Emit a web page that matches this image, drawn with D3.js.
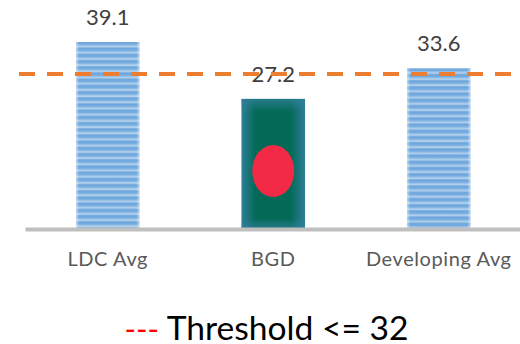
<!DOCTYPE html>
<html>
<head>
<meta charset="utf-8">
<script src="https://cdnjs.cloudflare.com/ajax/libs/d3/7.8.5/d3.min.js"></script>
<style>
html,body{margin:0;padding:0;background:#fff;}
svg{display:block;font-family:Lato,"Open Sans",sans-serif;}
</style>
</head>
<body>
<svg id="chart" width="520" height="344"></svg>
<script>
const categories = ["LDC Avg", "BGD", "Developing Avg"];
const values = [39.1, 27.2, 33.6];
const valueLabels = ["39.1", "27.2", "33.6"];
const thresholdLevel = 32.4;
const legendDash = "---";
const legendText = " Threshold <= 32";

const svg = d3.select("#chart");
const baseline = 229;

const x = d3.scaleBand().domain(categories).range([25, 521.5]).paddingInner(0.616).paddingOuter(0.308);
const y = d3.scaleLinear().domain([0, 39.1]).range([baseline, 42]);

const defs = svg.append("defs");

// Horizontal blue banding used by the two average bars
const stripe = defs.append("linearGradient").attr("id", "stripeBand").attr("x1", 0).attr("x2", 0).attr("y1", 0).attr("y2", 1);
[[0, "#6ba4dc"], [0.4, "#78aee0"], [0.75, "#bdd7ee"], [1, "#6ba4dc"]].forEach(([o, c]) =>
  stripe.append("stop").attr("offset", o).attr("stop-color", c));
defs.append("pattern").attr("id", "stripes").attr("patternUnits", "userSpaceOnUse")
  .attr("width", 10).attr("height", 6.2)
  .append("rect").attr("width", 10).attr("height", 6.2).attr("fill", "url(#stripeBand)");

// Pale fade at the left and right edges of a striped bar
const sideFade = defs.append("linearGradient").attr("id", "sideFade");
[[0, 0.5], [0.05, 0], [0.95, 0], [1, 0.5]].forEach(([o, a]) =>
  sideFade.append("stop").attr("offset", o).attr("stop-color", "#fff").attr("stop-opacity", a));

// Flag field: deep green centre softening to teal at the bar edges
const flagX = defs.append("linearGradient").attr("id", "flagX");
[[0, "#2f7f98"], [0.22, "#046a58"], [0.78, "#046a58"], [1, "#2f7f98"]].forEach(([o, c]) =>
  flagX.append("stop").attr("offset", o).attr("stop-color", c));
const flagY = defs.append("linearGradient").attr("id", "flagY").attr("x1", 0).attr("x2", 0).attr("y1", 0).attr("y2", 1);
[[0, 0.8], [0.1, 0], [0.92, 0], [1, 0.8]].forEach(([o, a]) =>
  flagY.append("stop").attr("offset", o).attr("stop-color", "#2f7f98").attr("stop-opacity", a));

const rows = categories.map((c, i) => ({ c, v: values[i], label: valueLabels[i] }));

const bars = svg.append("g").selectAll("g").data(rows).join("g")
  .attr("transform", d => `translate(${x(d.c)},${y(d.v)})`);

bars.filter(d => d.c !== "BGD").each(function (d) {
  const g = d3.select(this);
  const h = baseline - y(d.v);
  g.append("rect").attr("width", x.bandwidth()).attr("height", h).attr("fill", "url(#stripes)");
  g.append("rect").attr("width", x.bandwidth()).attr("height", h).attr("fill", "url(#sideFade)");
});

bars.filter(d => d.c === "BGD").each(function (d) {
  const g = d3.select(this);
  const h = baseline - y(d.v);
  g.append("rect").attr("width", x.bandwidth()).attr("height", h).attr("fill", "url(#flagX)");
  g.append("rect").attr("width", x.bandwidth()).attr("height", h).attr("fill", "url(#flagY)");
  g.append("ellipse").attr("cx", x.bandwidth() * 0.5).attr("cy", h * 0.554)
    .attr("rx", x.bandwidth() * 0.33).attr("ry", h * 0.2).attr("fill", "#f32a45");
});

// Category axis rule and labels
const axis = svg.append("g").attr("transform", `translate(0,${baseline})`)
  .call(d3.axisBottom(x).tickSize(0).tickPadding(23));
axis.select(".domain").attr("stroke", "#bfbfbf").attr("stroke-width", 4);
axis.selectAll("text").attr("font-size", 20).attr("letter-spacing", 0.6)
  .attr("fill", "#595959").attr("font-family", "Lato,sans-serif");

// Value labels above each bar
svg.append("g").selectAll("text").data(rows).join("text")
  .attr("x", d => x(d.c) + x.bandwidth() / 2)
  .attr("y", d => y(d.v) - 17)
  .attr("text-anchor", "middle")
  .attr("font-size", 22)
  .attr("fill", "#404040")
  .text(d => d.label);

// Threshold reference line
svg.append("line")
  .attr("x1", 19).attr("x2", 515)
  .attr("y1", y(thresholdLevel)).attr("y2", y(thresholdLevel))
  .attr("stroke", "#ed7d31").attr("stroke-width", 4)
  .attr("stroke-dasharray", "16 12");

// Legend line beneath the chart
const legend = svg.append("text").attr("x", 266.5).attr("y", 340).attr("text-anchor", "middle")
  .attr("font-size", 33.6).attr("fill", "#000");
legend.append("tspan").attr("fill", "#ff0000").attr("font-size", 31).text(legendDash);
legend.append("tspan").attr("xml:space", "preserve").text(legendText);
</script>
</body>
</html>
